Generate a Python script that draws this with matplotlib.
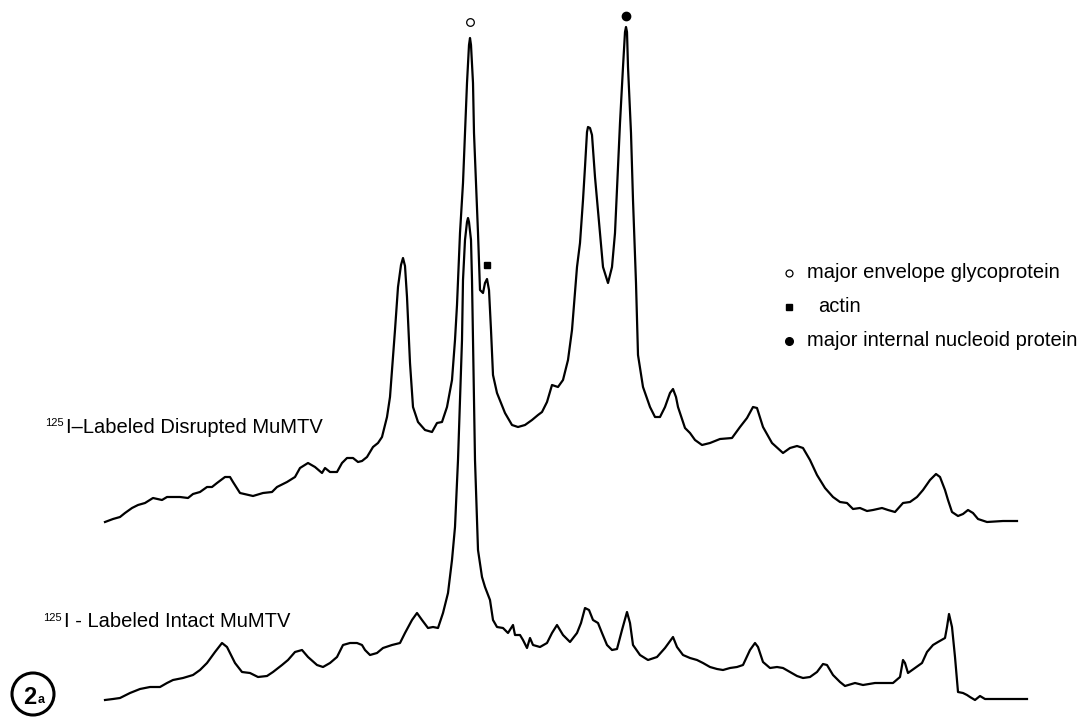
import matplotlib
matplotlib.use("Agg")
import matplotlib.pyplot as plt
from matplotlib.patches import Circle

plt.rcParams['font.family'] = ['Liberation Sans', 'DejaVu Sans']

# densitometer traces (x = migration, y = pen position, down is lower)
disruptedX = [105, 113, 120, 125, 132, 138, 145, 153, 162, 167, 180, 188, 193, 200, 207, 212, 217, 225, 230, 233,
              240, 253, 263, 272, 277, 287, 295, 300, 308, 315, 322, 325, 330, 337, 342, 347, 353, 358, 362, 367,
              373, 378, 382, 387, 390, 392, 395, 398, 401, 403, 405, 407, 410, 413, 418, 425, 432, 437, 442, 447,
              452, 455, 457, 460, 463, 465, 467, 469, 470, 471, 473, 474, 476, 478, 480, 483, 485, 487, 489, 491,
              493, 497, 505, 512, 518, 525, 532, 538, 542, 547, 552, 558, 563, 568, 572, 577, 580, 583, 585, 587,
              588, 590, 592, 595, 600, 603, 608, 612, 615, 618, 620, 623, 625, 626, 627, 628, 631, 633, 636, 638,
              643, 650, 655, 660, 665, 670, 673, 676, 678, 685, 690, 695, 702, 710, 720, 732, 740, 747, 753, 757,
              763, 772, 783, 790, 797, 803, 810, 817, 825, 833, 840, 847, 853, 860, 867, 873, 882, 888, 895, 903,
              910, 917, 923, 930, 936, 940, 945, 948, 952, 958, 963, 968, 973, 978, 987, 1003, 1017]
disruptedY = [522, 519, 517, 513, 508, 505, 503, 498, 500, 497, 497, 498, 494, 492, 487, 487, 483, 477, 477, 482,
              493, 496, 493, 492, 487, 482, 477, 468, 463, 467, 473, 468, 472, 472, 463, 458, 458, 462, 461, 457,
              447, 443, 437, 417, 397, 370, 330, 287, 265, 258, 266, 297, 363, 407, 422, 430, 432, 423, 422, 407,
              380, 340, 305, 233, 183, 133, 83, 45, 38, 45, 83, 133, 183, 233, 290, 293, 283, 279, 290, 330,
              375, 393, 413, 425, 427, 425, 420, 415, 412, 402, 385, 387, 380, 360, 330, 267, 243, 200, 167, 132,
              127, 128, 135, 177, 233, 267, 283, 267, 233, 167, 123, 67, 32, 27, 32, 67, 133, 200, 283, 355,
              387, 407, 417, 417, 407, 393, 389, 397, 407, 428, 433, 440, 445, 443, 439, 438, 427, 418, 407, 408,
              427, 443, 453, 448, 446, 448, 460, 475, 488, 497, 502, 503, 509, 508, 511, 510, 508, 510, 512, 503,
              502, 497, 490, 480, 474, 477, 490, 500, 512, 516, 514, 510, 513, 519, 522, 521, 521]

intactX = [105, 113, 120, 130, 140, 150, 160, 167, 173, 183, 193, 200, 207, 215, 222, 227, 235, 242, 250, 258,
           267, 273, 282, 288, 295, 302, 308, 317, 323, 330, 337, 343, 350, 357, 362, 365, 370, 377, 383, 392,
           400, 405, 412, 417, 422, 428, 433, 438, 443, 448, 452, 455, 458, 460, 462, 463, 465, 467, 468, 469,
           471, 472, 473, 474, 475, 478, 482, 485, 490, 493, 497, 503, 508, 513, 515, 520, 523, 527, 530, 533,
           540, 547, 552, 557, 563, 570, 577, 581, 585, 589, 593, 598, 602, 607, 612, 617, 622, 627, 630, 633,
           640, 648, 657, 665, 673, 677, 683, 690, 697, 703, 710, 717, 723, 730, 737, 743, 750, 755, 758, 763,
           770, 777, 783, 790, 797, 803, 810, 817, 823, 827, 833, 840, 845, 855, 863, 875, 883, 893, 900, 903,
           905, 908, 915, 922, 927, 933, 938, 945, 947, 949, 952, 955, 958, 963, 967, 970, 975, 980, 985, 997,
           1027]
intactY = [700, 699, 698, 693, 689, 687, 687, 683, 680, 678, 675, 670, 663, 652, 643, 647, 663, 672, 673, 677,
           676, 672, 665, 660, 652, 650, 657, 665, 667, 663, 657, 645, 643, 643, 645, 650, 655, 653, 648, 645,
           643, 633, 620, 613, 620, 628, 627, 628, 613, 593, 560, 527, 460, 400, 340, 280, 240, 222, 218, 222,
           240, 280, 340, 400, 460, 550, 577, 587, 600, 620, 627, 628, 633, 625, 635, 635, 640, 648, 638, 645,
           647, 643, 633, 625, 635, 642, 633, 623, 608, 610, 620, 623, 633, 645, 650, 649, 630, 612, 623, 645,
           655, 660, 657, 648, 637, 647, 655, 658, 660, 663, 667, 669, 670, 668, 667, 665, 650, 643, 647, 662,
           668, 667, 668, 672, 676, 678, 677, 672, 664, 665, 675, 682, 686, 683, 685, 683, 683, 683, 677, 660,
           663, 673, 668, 663, 652, 645, 642, 638, 627, 614, 627, 657, 692, 693, 695, 697, 700, 696, 699, 699,
           699]

# band markers on the disrupted trace
envelopeMark = (470, 22)
actinMark = (487, 265)
nucleoidMark = (626, 16)

legendLabels = ["major envelope glycoprotein", "actin", "major internal nucleoid protein"]
legendRows = [273, 307, 341]

fig = plt.figure(figsize=(10.9, 7.17), dpi=100)
ax = fig.add_axes([0, 0, 1, 1])
ax.set_xlim(0, 1090)
ax.set_ylim(717, 0)
ax.axis('off')

ax.plot(disruptedX, disruptedY, color='black', lw=1.6, solid_joinstyle='round')
ax.plot(intactX, intactY, color='black', lw=1.6, solid_joinstyle='round')

ax.plot(*envelopeMark, marker='o', ms=5.5, mfc='white', mec='black', mew=0.9)
ax.plot(*actinMark, marker='s', ms=5, color='black')
ax.plot(*nucleoidMark, marker='o', ms=6, color='black')

# legend
styles = [dict(marker='o', ms=5, mfc='white', mec='black', mew=0.9),
          dict(marker='s', ms=5, color='black'),
          dict(marker='o', ms=5.5, color='black')]
textX = [807, 818, 807]
for lab, row, st, tx in zip(legendLabels, legendRows, styles, textX):
    ax.plot(789, row, **st)
    ax.text(tx, row, lab, fontsize=14.5, va='center', ha='left')

# trace labels
ax.text(45, 426, "125", fontsize=8, va='baseline')
ax.text(66, 433, "I\u2013Labeled Disrupted MuMTV", fontsize=14.5, va='baseline')
ax.text(43, 621, "125", fontsize=8, va='baseline')
ax.text(64, 627, "I - Labeled Intact MuMTV", fontsize=14.5, va='baseline')

# figure number
ax.add_patch(Circle((33, 694), 21, fill=False, ec='black', lw=2.2))
ax.text(30, 697, "2", fontsize=17, fontweight='bold', ha='center', va='center', fontstretch='condensed')
ax.text(41, 700, "a", fontsize=9, fontweight='bold', ha='center', va='center')

fig.savefig("out.png", dpi=100)
